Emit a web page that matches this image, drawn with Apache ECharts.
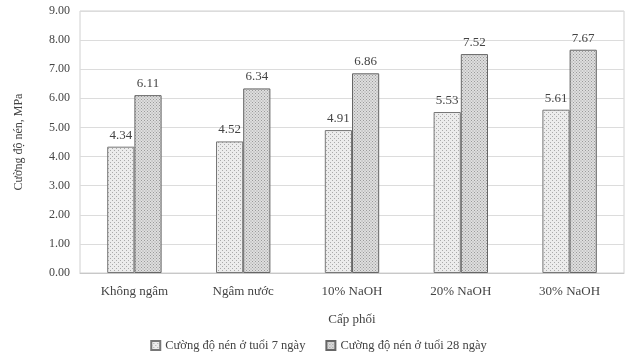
<!DOCTYPE html>
<html><head><meta charset="utf-8">
<script src="https://cdn.jsdelivr.net/npm/echarts@6/dist/echarts.min.js"></script>
<style>html,body{margin:0;padding:0;background:#fff}#c{width:637px;height:357px}</style>
</head><body><div id="c"></div>
<script>
const categories = ['Không ngâm', 'Ngâm nước', '10% NaOH', '20% NaOH', '30% NaOH'];
const seriesNames = ['Cường độ nén ở tuổi 7 ngày', 'Cường độ nén ở tuổi 28 ngày'];
const values7 = [4.34, 4.52, 4.91, 5.53, 5.61];
const values28 = [6.11, 6.34, 6.86, 7.52, 7.67];

function makePattern(bg, dot, step) {
  const c = document.createElement('canvas');
  c.width = step; c.height = step;
  const g = c.getContext('2d');
  g.fillStyle = bg; g.fillRect(0, 0, step, step);
  g.fillStyle = dot; g.fillRect(0, 0, 1, 1);
  g.fillRect(step / 2, step / 2, 1, 1);
  return c;
}
const pat7 = { image: makePattern('#ececec', '#aaaaaa', 4), repeat: 'repeat' };
const pat28 = { image: makePattern('#dedede', '#9a9a9a', 3), repeat: 'repeat' };

const font = 'Liberation Serif';
const chart = echarts.init(document.getElementById('c'));
chart.setOption({
  animation: false,
  textStyle: { fontFamily: font },
  grid: { left: 80, right: 13, top: 11, bottom: 84, show: true, borderColor: '#d0d0d0', borderWidth: 1 },
  legend: {
    bottom: 0, left: 'center', itemWidth: 9, itemHeight: 9, itemGap: 20,
    textStyle: { fontFamily: font, fontSize: 12.5, color: '#444' },
    data: seriesNames.map(n => ({ name: n, icon: 'rect' }))
  },
  xAxis: {
    type: 'category', data: categories,
    name: 'Cấp phối', nameLocation: 'middle', nameGap: 40,
    nameTextStyle: { fontFamily: font, fontSize: 13, color: '#444' },
    axisLine: { lineStyle: { color: '#c8c8c8' } },
    axisTick: { show: false },
    axisLabel: { fontFamily: font, fontSize: 13, color: '#444', margin: 12 }
  },
  yAxis: {
    type: 'value', min: 0, max: 9, interval: 1,
    name: 'Cường độ nén, MPa', nameLocation: 'middle', nameGap: 55,
    nameTextStyle: { fontFamily: font, fontSize: 12, color: '#444' },
    axisLine: { show: false },
    axisLabel: { fontFamily: font, fontSize: 12, color: '#444', margin: 10, formatter: v => v.toFixed(2) },
    splitLine: { lineStyle: { color: '#dcdcdc' } }
  },
  series: [
    {
      name: seriesNames[0], type: 'bar', data: values7, barGap: '0%', barCategoryGap: '50%',
      itemStyle: { color: pat7, borderColor: '#777', borderWidth: 1 },
      label: { show: true, position: 'top', fontFamily: font, fontSize: 13, color: '#444', formatter: p => p.value.toFixed(2) }
    },
    {
      name: seriesNames[1], type: 'bar', data: values28,
      itemStyle: { color: pat28, borderColor: '#666', borderWidth: 1 },
      label: { show: true, position: 'top', fontFamily: font, fontSize: 13, color: '#444', formatter: p => p.value.toFixed(2) }
    }
  ]
});
</script></body></html>
